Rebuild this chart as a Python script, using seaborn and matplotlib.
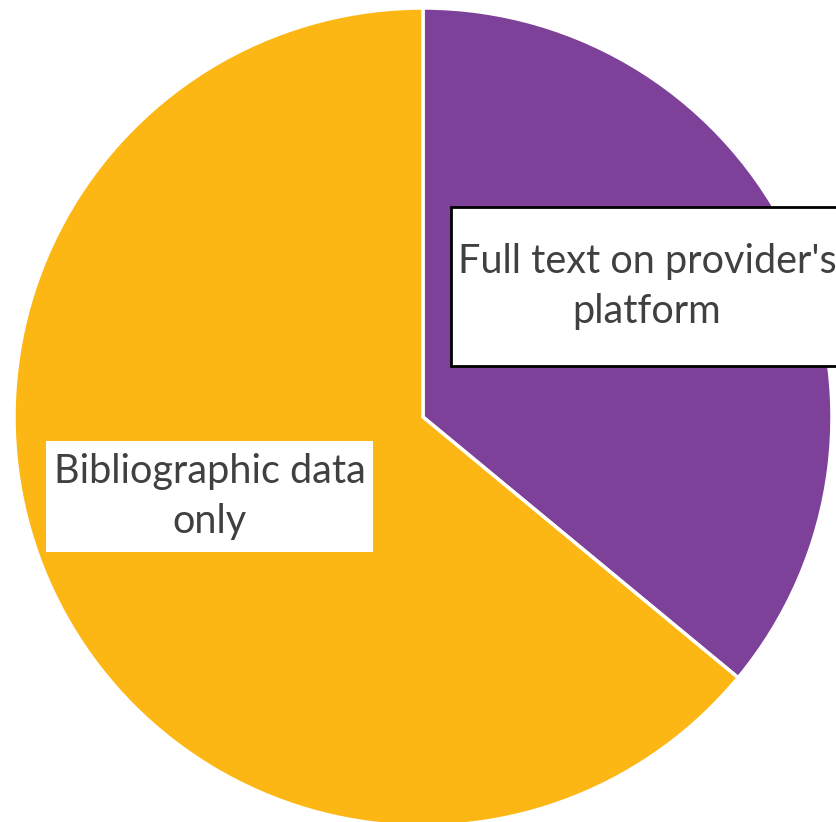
import matplotlib
matplotlib.use("Agg")
import matplotlib.pyplot as plt
import seaborn as sns
from matplotlib.patches import Rectangle

# Data
categories = ["Full text on provider's\nplatform", "Bibliographic data\nonly"]
shares = [36, 64]
colors = ["#7D4199", "#FCB715"]

sns.set_theme(style="white")
plt.rcParams['font.family'] = ['Lato', 'DejaVu Sans']

W, H = 837, 822
fig = plt.figure(figsize=(W / 100, H / 100), dpi=100)
ax = fig.add_axes([0, 0, 1, 1])

# pie in pixel coordinates (y axis flipped, so direction is reversed)
ax.pie(shares, colors=sns.color_palette(colors), startangle=-90, counterclock=True,
       center=(423, 417), radius=409, frame=True,
       wedgeprops=dict(edgecolor='white', linewidth=2.5))
ax.set_xlim(0, W)
ax.set_ylim(H, 0)
ax.axis('off')

# label boxes
boxes = [(451, 207, 392, 159, 'black'), (46, 441, 327, 111, 'none')]
for (x, y, w, h, ec), label in zip(boxes, categories):
    ax.add_patch(Rectangle((x, y), w, h, facecolor='white', edgecolor=ec, linewidth=2, zorder=3))
    ax.text(x + w / 2, y + h / 2, label, ha='center', va='center', fontsize=28.5,
            color='#404040', linespacing=1.45, zorder=4)

fig.savefig("out.png", dpi=100)
